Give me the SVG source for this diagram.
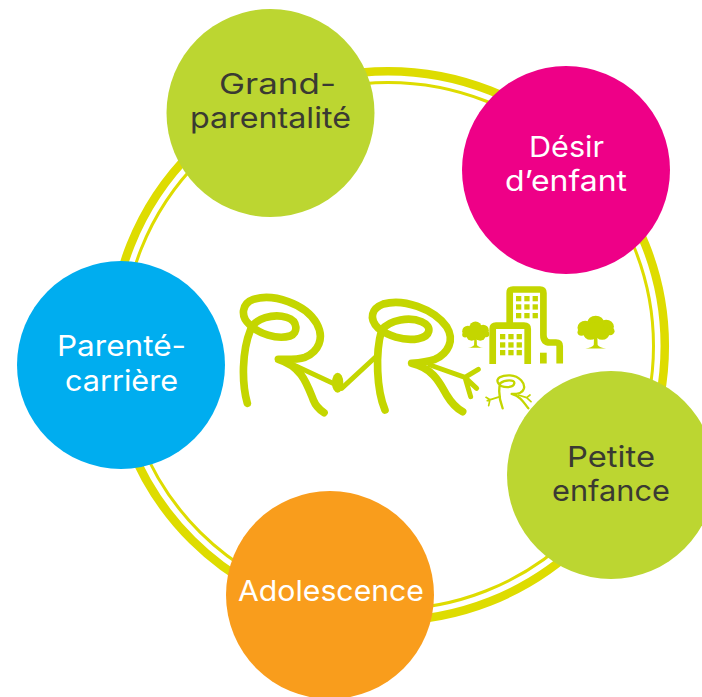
<svg xmlns="http://www.w3.org/2000/svg" width="702" height="697" viewBox="0 0 702 697">
<style>
.t{font-family:Inter,"Open Sans","Noto Sans",sans-serif;font-weight:400;font-size:29px;text-anchor:middle}
.d{fill:#3a3a32}.w{fill:#fff}
.lg{fill:none;stroke:#c4d600;stroke-linecap:round;stroke-linejoin:round}
.lf{fill:#c4d600}
.b{fill:none;stroke:#c4d600;stroke-width:6.7}
</style>
<defs>
<g id="win"><rect x="0" width="5.300" height="5.300"/><rect x="8.300" width="5.300" height="5.300"/><rect x="16.600" width="5.300" height="5.300"/></g>
<g id="tree">
<circle cx="-8" cy="-2" r="6"/><circle cx="0" cy="-6" r="6.500"/><circle cx="8" cy="-3" r="6"/><circle cx="-4" cy="3" r="5.500"/><circle cx="5" cy="3" r="5.500"/><circle cx="-11" cy="2" r="3"/><circle cx="11" cy="1" r="3.500"/><circle cx="0" cy="0" r="7"/>
<path d="M-1.200 4H1.200L1.500 13Q3 15.500 8 16H-8Q-3 15.500-1.500 13Z"/>
</g>
</defs>
<rect width="702" height="697" fill="#fff"/>
<g id="connectors" fill="none" stroke="#dedc00">
<ellipse cx="388" cy="346" rx="276.800" ry="274.800" stroke-width="8.500"/>
<ellipse cx="388" cy="346" rx="265.500" ry="263.500" stroke-width="3"/>
</g>
<g id="logo-letters" transform="translate(230 280) scale(.3333)">
<path class="lg" stroke-width="23" d="M52 370C35 310 35 215 62 148C75 115 130 100 170 112C205 122 205 160 180 168C140 180 85 160 60 135C30 110 35 70 70 58C130 40 225 70 260 130C285 175 265 215 225 232C200 240 170 238 145 238C215 260 230 310 250 360C258 380 270 390 282 398"/>
<path class="lg" stroke-width="15" d="M180 250L320 315M335 325L440 228"/>
<ellipse class="lf" cx="323" cy="308" rx="17" ry="30"/>
<path class="lg" stroke-width="23" d="M465 390C440 330 435 220 455 150C480 118 540 110 575 125C610 140 600 170 565 176C520 185 470 165 445 145C415 115 425 85 460 72C520 55 610 85 650 140C675 180 655 220 615 238C590 246 570 248 545 250C610 265 630 310 650 345C665 370 680 385 698 395"/>
<path class="lg" stroke-width="15" d="M600 255L705 292M745 268L705 292L722 350M708 295L740 325"/>
</g>
<g id="logo-mini" transform="translate(450 280) scale(.3333)">
<path class="lg" stroke-width="7" d="M158 385C148 360 146 330 150 310C165 298 195 298 193 310C190 325 155 325 145 310C135 295 155 285 180 286C210 288 225 310 222 325C218 340 205 342 185 342C215 350 222 370 235 385"/>
<path class="lg" stroke-width="5" d="M150 350L112 362M120 359L116 377M120 359L108 352M205 345L230 353M230 353L240 345M230 353L243 365"/>
</g>
<g id="logo-buildings">
<path class="b" d="M509.700 323V293Q509.700 289.500 513 289.500H540Q543.400 289.500 543.400 293V335Q543.400 342.500 550 342.500H556Q559.700 342.500 559.700 346V363.500"/>
<path class="b" d="M492.700 364V329Q492.700 325.700 496 325.700H524Q527.700 325.700 527.700 329V364"/>
<rect class="lf" x="540" y="352.700" width="6.700" height="10.800"/>
<g class="lf"><use href="#win" transform="translate(516 296)"/><use href="#win" transform="translate(516 304.300)"/><use href="#win" transform="translate(516 313)"/><use href="#win" transform="translate(500 334)"/><use href="#win" transform="translate(500 342.300)"/><use href="#win" transform="translate(500 350)"/></g>
</g>
<g id="trees" class="lf">
<use href="#tree" transform="translate(475.500 333) scale(.95 .92)"/>
<use href="#tree" transform="translate(595.700 330) scale(1.300 1.150)"/>
</g>
<g id="node-grand"><circle cx="270.500" cy="113" r="104" fill="#bcd631"/><text class="t d" x="277.500" y="94" textLength="117" lengthAdjust="spacingAndGlyphs">Grand-</text><text class="t d" x="270.500" y="128" textLength="161" lengthAdjust="spacingAndGlyphs">parentalité</text></g>
<g id="node-desir"><circle cx="566" cy="170" r="104" fill="#ee0087"/><text class="t w" x="566.500" y="157" textLength="75" lengthAdjust="spacingAndGlyphs">Désir</text><text class="t w" x="566" y="191" textLength="122" lengthAdjust="spacingAndGlyphs">d’enfant</text></g>
<g id="node-petite"><circle cx="611" cy="475" r="104" fill="#bcd631"/><text class="t d" x="611" y="467" textLength="88" lengthAdjust="spacingAndGlyphs">Petite</text><text class="t d" x="611" y="501" textLength="118" lengthAdjust="spacingAndGlyphs">enfance</text></g>
<g id="node-ado"><circle cx="330" cy="595" r="104" fill="#f99d1c"/><text class="t w" x="331" y="601" textLength="186" lengthAdjust="spacingAndGlyphs">Adolescence</text></g>
<g id="node-parente"><circle cx="121" cy="365" r="104" fill="#00adef"/><text class="t w" x="121.500" y="356" textLength="129" lengthAdjust="spacingAndGlyphs">Parenté-</text><text class="t w" x="121.500" y="391" textLength="113" lengthAdjust="spacingAndGlyphs">carrière</text></g>
</svg>
